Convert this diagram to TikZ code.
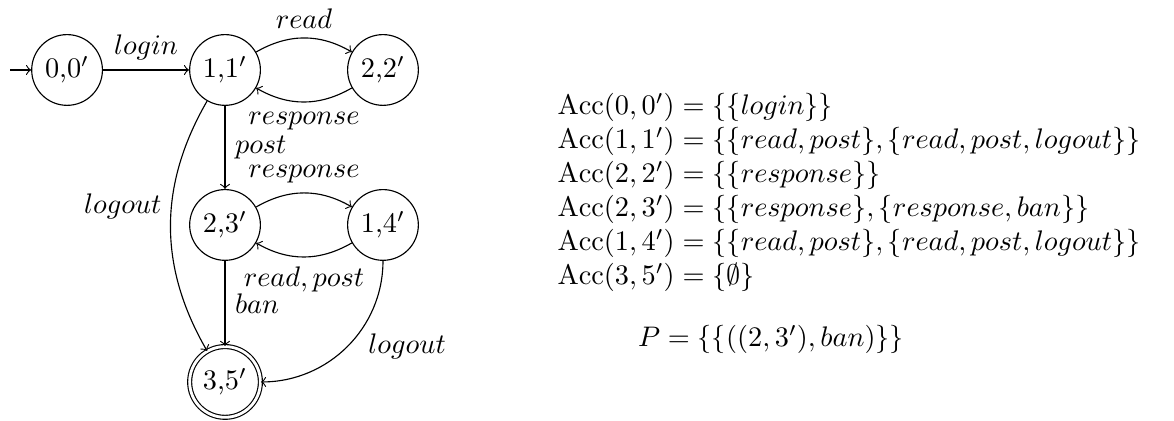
\documentclass[tikz,border=0pt]{standalone}
\usetikzlibrary{positioning}

\begin{document}
\begin{tikzpicture}[
      st/.style={draw, circle, inner sep=0pt, minimum size=2.5em},
      fin/.style={st, double, double distance=1pt}]
    \useasboundingbox (-2.795,0.869) rectangle (11.787,-4.359);
    % states of the product
    \coordinate (start) at (-2.670,0);
    \node[st]  (q00) at (-1.962,0)     {0,0$'$};
    \node[st]  (q11) at (0,0)          {1,1$'$};
    \node[st]  (q22) at (1.962,0)      {2,2$'$};
    \node[st]  (q23) at (0,-1.925)     {2,3$'$};
    \node[st]  (q14) at (1.962,-1.925) {1,4$'$};
    \node[fin] (q35) at (0,-3.875)     {3,5$'$};
    % transitions
    \draw[->] (start) -- (q00);
    \draw[->] (q00) -- node[above] {$login$} (q11);
    \draw[->] (q11) to[bend left] node[above] {$read$} (q22);
    \draw[->] (q22) to[bend left] node[below] {$response$} (q11);
    \draw[->] (q11) -- node[right] {$post$} (q23);
    \draw[->] (q11) to[bend right] node[pos=0.42, left] {$logout$} (q35);
    \draw[->] (q23) to[bend left] node[above] {$response$} (q14);
    \draw[->] (q14) to[bend left] node[below] {$read, post$} (q23);
    \draw[->] (q23) -- node[right] {$ban$} (q35);
    \draw[->] (q14) to[out=-90, in=0] node[right=4pt] {$logout$} (q35);
    % acceptance sets
    \node[anchor=north west, align=left, inner sep=0pt] (acc) at (4.123,-0.282)
      {$\mathrm{Acc}(0,0') = \{\{login\}\}$\\
       $\mathrm{Acc}(1,1') = \{\{read, post\}, \{read, post, logout\}\}$\\
       $\mathrm{Acc}(2,2') = \{\{response\}\}$\\
       $\mathrm{Acc}(2,3') = \{\{response\}, \{response, ban\}\}$\\
       $\mathrm{Acc}(1,4') = \{\{read, post\}, \{read, post, logout\}\}$\\
       $\mathrm{Acc}(3,5') = \{\emptyset\}$};
    \node[anchor=base, inner sep=0pt] (prop) at (6.781,-3.440)
      {$P = \{\{((2,3'), ban)\}\}$};
  \end{tikzpicture}
\end{document}
